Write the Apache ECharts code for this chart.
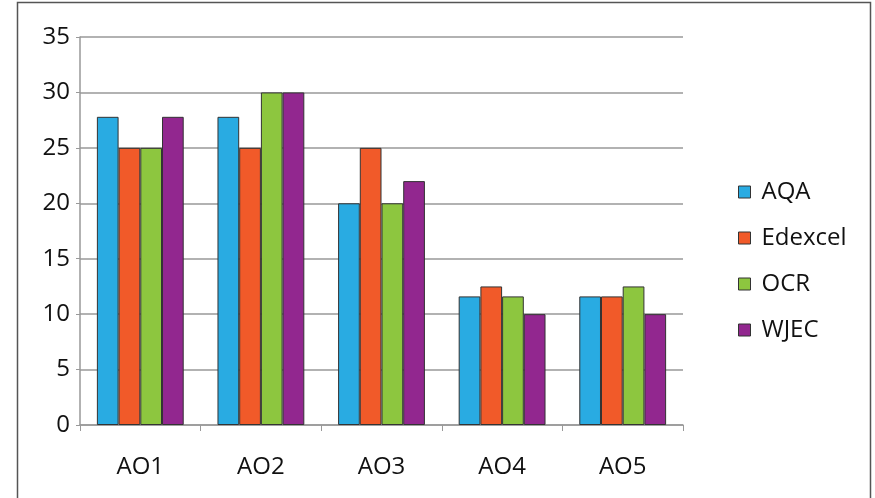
<!DOCTYPE html>
<html><head><meta charset="utf-8">
<script src="https://cdn.jsdelivr.net/npm/echarts@6/dist/echarts.min.js"></script>
<style>html,body{margin:0;padding:0;background:#fff}#c{width:875px;height:498px}</style>
</head><body><div id="c"></div>
<script>
const categories = ['AO1','AO2','AO3','AO4','AO5'];
const seriesNames = ['AQA','Edexcel','OCR','WJEC'];
const aqa = [27.8, 27.8, 20, 11.6, 11.6];
const edexcel = [25, 25, 25, 12.5, 11.6];
const ocr = [25, 30, 20, 11.6, 12.5];
const wjec = [27.8, 30, 22, 10, 10];
const yTicks = [0,5,10,15,20,25,30,35];
const colors = ['#29abe2','#f15a29','#8dc63f','#92278f'];
const values = [aqa, edexcel, ocr, wjec];
const font = 'Open Sans, DejaVu Sans, sans-serif';
const chart = echarts.init(document.getElementById('c'));
chart.setOption({
  animation: false,
  graphic: [{type:'rect', shape:{x:17.5,y:2.5,width:853,height:520}, style:{fill:'none',stroke:'#555',lineWidth:1.5}, z:-1}],
  grid: {left:80, top:37, width:603, height:388, containLabel:false},
  legend: {
    orient:'vertical', left:733, top:175, itemGap:22, itemWidth:12, itemHeight:12, icon:'rect',
    textStyle:{fontSize:24, fontFamily:font, color:'#111', padding:[0,0,0,6]},
    data: seriesNames.map((n,i)=>({name:n, itemStyle:{color:colors[i], borderColor:'#333', borderWidth:1}}))
  },
  xAxis: {type:'category', data:categories,
    axisLine:{lineStyle:{color:'#999',width:1.5}},
    axisTick:{show:true, length:6, lineStyle:{color:'#999'}},
    axisLabel:{fontSize:24, fontFamily:font, color:'#111', margin:30}},
  yAxis: {type:'value', min:yTicks[0], max:yTicks[yTicks.length-1], interval:5,
    axisLine:{show:true, lineStyle:{color:'#999',width:1.5}},
    axisTick:{show:true, length:4, lineStyle:{color:'#999'}},
    splitLine:{lineStyle:{color:'#999',width:1.5}},
    axisLabel:{fontSize:24, fontFamily:font, color:'#111', margin:10}},
  series: seriesNames.map((n,i)=>({
    name:n, type:'bar', data:values[i], barGap:'0%', barCategoryGap:'28%',
    itemStyle:{color:colors[i], borderColor:'#333', borderWidth:1}
  }))
});
</script></body></html>
